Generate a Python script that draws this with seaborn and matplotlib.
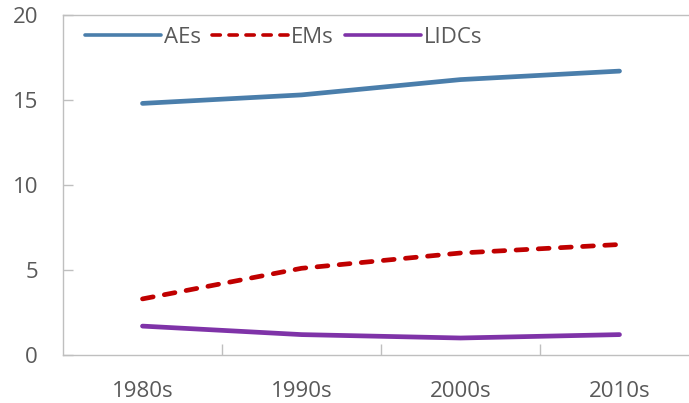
import numpy as np
import pandas as pd
import seaborn as sns
import matplotlib
import matplotlib.pyplot as plt
matplotlib.use('Agg')

decades = ["1980s", "1990s", "2000s", "2010s"]
aes = [14.8, 15.3, 16.2, 16.7]
ems = [3.3, 5.1, 6.0, 6.5]
lidcs = [1.7, 1.2, 1.0, 1.2]

sns.set_style("white")
plt.rcParams['font.family'] = ['Open Sans', 'DejaVu Sans']

df = pd.DataFrame({
    "decade": decades * 3,
    "x": list(range(len(decades))) * 3,
    "value": aes + ems + lidcs,
    "group": ["AEs"] * 4 + ["EMs"] * 4 + ["LIDCs"] * 4,
})

fig = plt.figure(figsize=(6.89, 4.03), dpi=100)
ax = fig.add_axes([63 / 689, 48 / 403, 636 / 689, 340 / 403])

palette = {"AEs": "#4A7EAB", "EMs": "#C00000", "LIDCs": "#7F33A8"}
sns.lineplot(data=df, x="x", y="value", hue="group", style="group",
             palette=palette, dashes={"AEs": "", "EMs": (2.3, 2.4), "LIDCs": ""},
             linewidth=3.4, ax=ax, legend=False)

for ln in ax.get_lines():
    ln.set_solid_capstyle("round")
    ln.set_dash_capstyle("round")

ax.set_xlim(-0.5, 3.5)
ax.set_ylim(0, 20)
ax.set_yticks([0, 5, 10, 15, 20])
ax.set_xticks(range(len(decades)))
ax.set_xticklabels(decades)
ax.set_xlabel("")
ax.set_ylabel("")

gray = "#BFBFBF"
for s in ax.spines.values():
    s.set_color(gray)
    s.set_linewidth(1)

ax.tick_params(axis="y", direction="in", length=7, color=gray, width=1,
               labelsize=16, labelcolor="#595959", pad=18, left=True)
ax.tick_params(axis="x", length=0, labelsize=16, labelcolor="#595959", pad=19)
# category separator ticks
ax.set_xticks([0.5, 1.5, 2.5], minor=True)
ax.tick_params(axis="x", which="minor", direction="in", length=8, color=gray,
               width=1, bottom=True)

# legend handles drawn with thinner strokes, same styles as the lines
handles = [
    plt.Line2D([], [], color=palette["AEs"], lw=2.6, solid_capstyle="round"),
    plt.Line2D([], [], color=palette["EMs"], lw=2.6, dashes=(2.3, 2.4),
               dash_capstyle="round"),
    plt.Line2D([], [], color=palette["LIDCs"], lw=2.6, solid_capstyle="round"),
]
leg = ax.legend(handles, ["AEs", "EMs", "LIDCs"], loc="upper left",
                bbox_to_anchor=(0.016, 1.0), ncol=3, frameon=False,
                handlelength=3.4, handletextpad=0.15, columnspacing=0.5,
                fontsize=16, borderaxespad=0.15, borderpad=0.4)
for t in leg.get_texts():
    t.set_color("#595959")

fig.savefig("out.png", dpi=100)
